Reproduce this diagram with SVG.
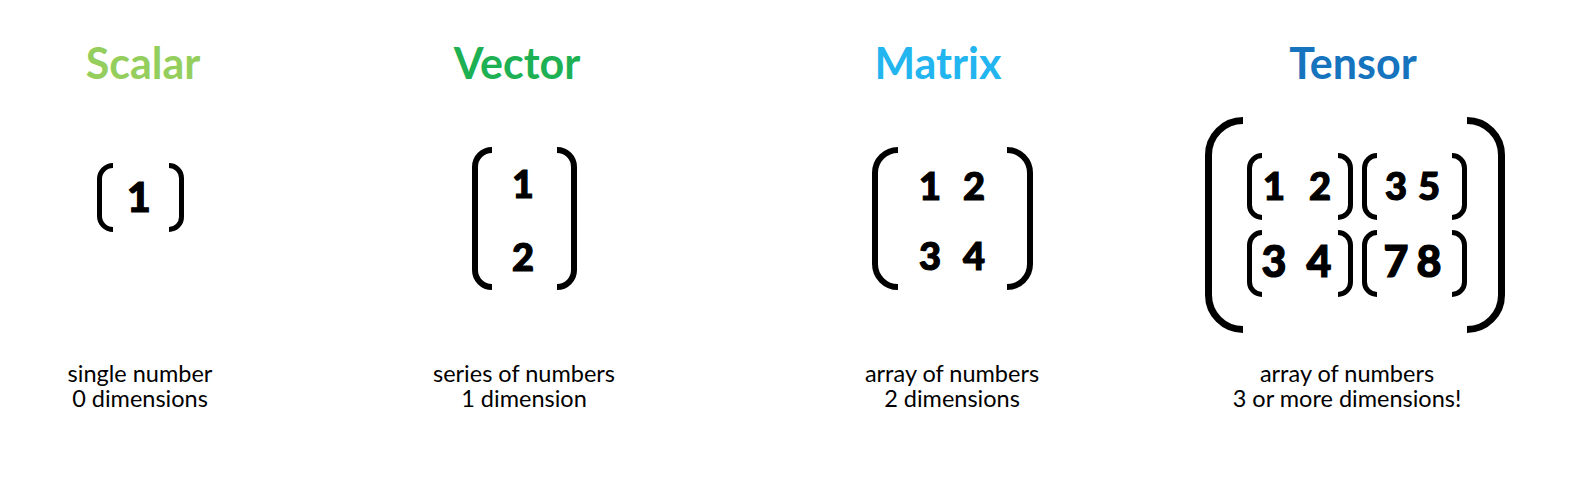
<svg xmlns="http://www.w3.org/2000/svg" width="1578" height="484" viewBox="0 0 1578 484">
<style>
.title{font-family:Lato,"Liberation Sans",sans-serif;font-weight:700;font-size:43px;text-anchor:middle}
.num{font-family:Lato,"Liberation Sans",sans-serif;font-weight:900;text-anchor:middle;fill:#000;stroke:#000;stroke-width:1.2px}
.desc{font-family:Lato,"Liberation Sans",sans-serif;font-size:23.5px;text-anchor:middle;fill:#000}
.br{fill:none;stroke:#000;stroke-linecap:butt}
</style>
<rect width="1578" height="484" fill="#fff"/>
<g id="scalar">
<text class="title" x="143" y="79" fill="#94CE5C">Scalar</text>
<path class="br" stroke-width="5" d="M113 165.5 A13.5 13.5 0 0 0 99.5 179 L99.5 216 A13.5 13.5 0 0 0 113 229.5"/>
<path class="br" stroke-width="5" d="M169 165.5 A12.5 12.5 0 0 1 181.5 178 L181.5 217 A12.5 12.5 0 0 1 169 229.5"/>
<text class="num" x="139" y="212" font-size="41">1</text>
<text class="desc" x="140" y="382">single number</text>
<text class="desc" x="140" y="407">0 dimensions</text>
</g>
<g id="vector">
<text class="title" x="517" y="79" fill="#1DB153">Vector</text>
<path class="br" stroke-width="6" d="M492 150 A17 17 0 0 0 475 167 L475 270 A17 17 0 0 0 492 287"/>
<path class="br" stroke-width="6" d="M557 150 A17 17 0 0 1 574 167 L574 270 A17 17 0 0 1 557 287"/>
<text class="num" x="523" y="198" font-size="37">1</text>
<text class="num" x="523" y="271" font-size="38">2</text>
<text class="desc" x="524" y="382">series of numbers</text>
<text class="desc" x="524" y="407">1 dimension</text>
</g>
<g id="matrix">
<text class="title" x="938" y="79" fill="#22B5EF">Matrix</text>
<path class="br" stroke-width="6" d="M898 150 A23 23 0 0 0 875 173 L875 264 A23 23 0 0 0 898 287"/>
<path class="br" stroke-width="6" d="M1007 150 A23 23 0 0 1 1030 173 L1030 264 A23 23 0 0 1 1007 287"/>
<text class="num" x="930" y="200" font-size="38">1</text>
<text class="num" x="974" y="200" font-size="38">2</text>
<text class="num" x="930" y="270" font-size="38">3</text>
<text class="num" x="974" y="270" font-size="38">4</text>
<text class="desc" x="952" y="382">array of numbers</text>
<text class="desc" x="952" y="407">2 dimensions</text>
</g>
<g id="tensor">
<text class="title" x="1353" y="79" fill="#1674BE">Tensor</text>
<path class="br" stroke-width="7" d="M1243 120.5 A34.5 34.5 0 0 0 1208.5 155 L1208.5 295 A34.5 34.5 0 0 0 1243 329.5"/>
<path class="br" stroke-width="7" d="M1467 120.5 A34.5 34.5 0 0 1 1501.5 155 L1501.5 295 A34.5 34.5 0 0 1 1467 329.5"/>
<path class="br" stroke-width="5" d="M1262 155.5 A12.5 12.5 0 0 0 1249.5 168 L1249.5 205 A12.5 12.5 0 0 0 1262 217.5"/>
<path class="br" stroke-width="5" d="M1338 155.5 A12.5 12.5 0 0 1 1350.5 168 L1350.5 205 A12.5 12.5 0 0 1 1338 217.5"/>
<path class="br" stroke-width="5" d="M1377 155.5 A12.5 12.5 0 0 0 1364.5 168 L1364.5 205 A12.5 12.5 0 0 0 1377 217.5"/>
<path class="br" stroke-width="5" d="M1452 155.5 A12.5 12.5 0 0 1 1464.5 168 L1464.5 205 A12.5 12.5 0 0 1 1452 217.5"/>
<path class="br" stroke-width="5" d="M1262 232.5 A12.5 12.5 0 0 0 1249.5 245 L1249.5 282 A12.5 12.5 0 0 0 1262 294.5"/>
<path class="br" stroke-width="5" d="M1338 232.5 A12.5 12.5 0 0 1 1350.5 245 L1350.5 282 A12.5 12.5 0 0 1 1338 294.5"/>
<path class="br" stroke-width="5" d="M1377 232.5 A12.5 12.5 0 0 0 1364.5 245 L1364.5 282 A12.5 12.5 0 0 0 1377 294.5"/>
<path class="br" stroke-width="5" d="M1452 232.5 A12.5 12.5 0 0 1 1464.5 245 L1464.5 282 A12.5 12.5 0 0 1 1452 294.5"/>
<text class="num" x="1274" y="200" font-size="38">1</text>
<text class="num" x="1320" y="200" font-size="38">2</text>
<text class="num" x="1396" y="200" font-size="38">3</text>
<text class="num" x="1429" y="200" font-size="38">5</text>
<text class="num" x="1274" y="277" font-size="43">3</text>
<text class="num" x="1319" y="277" font-size="43">4</text>
<text class="num" x="1396" y="277" font-size="43">7</text>
<text class="num" x="1429" y="277" font-size="43">8</text>
<text class="desc" x="1347" y="382">array of numbers</text>
<text class="desc" x="1347" y="407">3 or more dimensions!</text>
</g>
</svg>
